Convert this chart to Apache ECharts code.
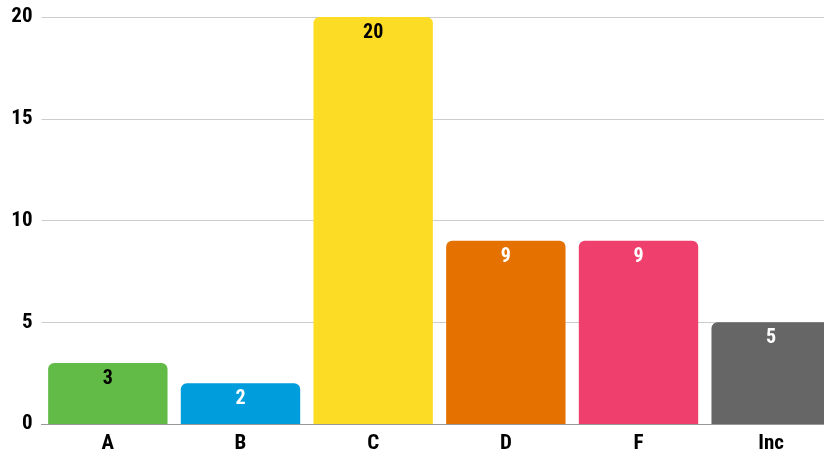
<!DOCTYPE html>
<html>
<head>
<meta charset="utf-8">
<script src="https://cdn.jsdelivr.net/npm/echarts@6/dist/echarts.min.js"></script>
<style>
  html, body { margin: 0; padding: 0; background: #fff; }
  #chart-container { width: 824px; height: 456px; }
</style>
</head>
<body>
<div id="chart-container"></div>
<script>
const categories = ['A', 'B', 'C', 'D', 'F', 'Inc'];
const counts = [3, 2, 20, 9, 9, 5];
const barColors = ['#62bb47', '#009ddc', '#fcdc24', '#e57200', '#ee3f6d', '#666666'];
const labelColors = ['#000000', '#ffffff', '#000000', '#ffffff', '#ffffff', '#ffffff'];
const yTicks = [0, 5, 10, 15, 20];

const fontFamily = '"Roboto Condensed", "Roboto", sans-serif';

const seriesData = counts.map((value, i) => {
  return {
    value: value,
    itemStyle: { color: barColors[i] },
    label: { color: labelColors[i] },
  };
});

var dom = document.getElementById('chart-container');
var myChart = echarts.init(dom, null, { renderer: 'canvas' });
var option = {
  animation: false,
  grid: {
    left: 41.5,
    width: 796,
    top: 17,
    bottom: 32,
    containLabel: false,
    outerBoundsMode: 'none',
  },
  xAxis: {
    type: 'category',
    data: categories,
    axisLine: { lineStyle: { color: '#999999', width: 1 } },
    axisTick: { show: false },
    axisLabel: {
      color: '#000',
      fontFamily: fontFamily,
      fontWeight: 'bold',
      fontSize: 21,
      margin: 9,
    },
  },
  yAxis: {
    type: 'value',
    min: yTicks[0],
    max: yTicks[yTicks.length - 1],
    interval: 5,
    axisLine: { show: false },
    axisTick: { show: false },
    splitLine: { lineStyle: { color: '#cccccc', width: 1 } },
    axisLabel: {
      color: '#000',
      fontFamily: fontFamily,
      fontWeight: 'bold',
      fontSize: 21,
      margin: 9,
    },
  },
  series: [
    {
      type: 'bar',
      data: seriesData,
      barCategoryGap: '10%',
      itemStyle: { borderRadius: [6, 6, 0, 0] },
      label: {
        show: true,
        position: 'insideTop',
        distance: 6,
        fontFamily: fontFamily,
        fontWeight: 'bold',
        fontSize: 20,
      },
    },
  ],
};
myChart.setOption(option);
</script>
</body>
</html>
